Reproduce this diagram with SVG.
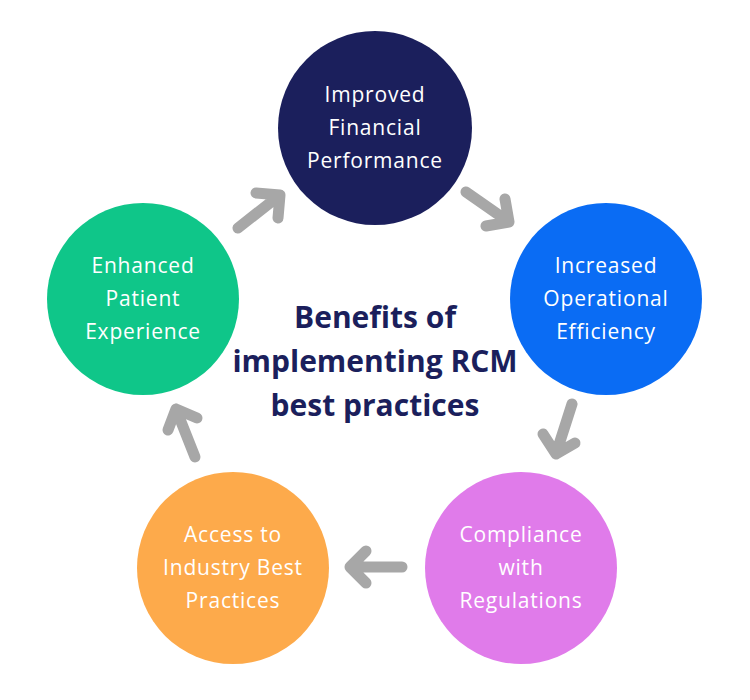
<svg xmlns="http://www.w3.org/2000/svg" width="750" height="700" viewBox="0 0 750 700">
<style>
.node text{font-family:"Open Sans","Lato",sans-serif;font-size:21px;letter-spacing:0.8px;fill:#ffffff;text-anchor:middle;}
.title{font-family:"Open Sans","Lato",sans-serif;font-weight:bold;font-size:30px;fill:#1b1f5c;text-anchor:middle;}
.arr{fill:none;stroke:#a7a7a7;stroke-width:11;stroke-linecap:round;stroke-linejoin:round;}
</style>
<rect width="750" height="700" fill="#ffffff"/>
<g id="node-financial" class="node">
<circle cx="375" cy="128" r="97" fill="#1b1f5c"/>
<text x="375" y="102">Improved</text>
<text x="375" y="135">Financial</text>
<text x="375" y="168">Performance</text>
</g>
<g id="node-efficiency" class="node">
<circle cx="606" cy="299" r="96" fill="#0a6cf4"/>
<text x="606" y="273">Increased</text>
<text x="606" y="306">Operational</text>
<text x="606" y="339">Efficiency</text>
</g>
<g id="node-compliance" class="node">
<circle cx="521" cy="568" r="96" fill="#e07bea"/>
<text x="521" y="542">Compliance</text>
<text x="521" y="575">with</text>
<text x="521" y="608">Regulations</text>
</g>
<g id="node-access" class="node">
<circle cx="233" cy="568" r="96" fill="#fdaa4b"/>
<text x="233" y="542">Access to</text>
<text x="233" y="575">Industry Best</text>
<text x="233" y="608">Practices</text>
</g>
<g id="node-patient" class="node">
<circle cx="143" cy="299" r="96" fill="#0fc689"/>
<text x="143" y="273">Enhanced</text>
<text x="143" y="306">Patient</text>
<text x="143" y="339">Experience</text>
</g>
<g id="title">
<text class="title" x="375" y="328">Benefits of</text>
<text class="title" x="375" y="372">implementing RCM</text>
<text class="title" x="375" y="416">best practices</text>
</g>
<g id="connectors" class="arr">
<path d="M238 228 L280 195 M256 193 L280 195 L278 218"/>
<path d="M466 192 L509 222 M505 199 L509 222 L486 226"/>
<path d="M572 404 L556 454 M543 434 L556 454 L575 443"/>
<path d="M402 567 L350 567 M366 551 L350 567 L366 583"/>
<path d="M195 457 L176 409 M168 430 L176 409 L197 418"/>
</g>
</svg>
